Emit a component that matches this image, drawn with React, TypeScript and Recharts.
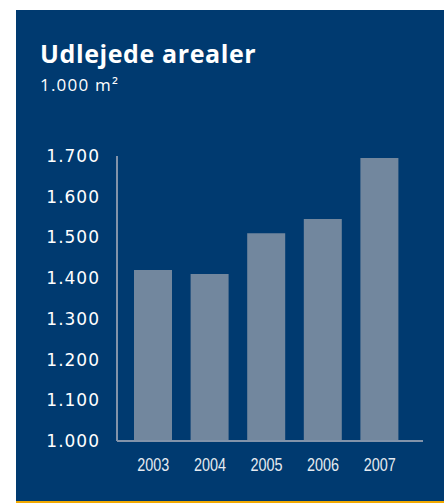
import React from "react";
import { BarChart, Bar, XAxis, YAxis } from "recharts";

const years = ["2003", "2004", "2005", "2006", "2007"];
const areal = [1420, 1410, 1510, 1545, 1695];
const yTicks = [1000, 1100, 1200, 1300, 1400, 1500, 1600, 1700];

const data = years.map((y, i) => ({ year: y, value: areal[i] }));

const fmt = (v: number) => {
  const s = String(v);
  return s.length > 3 ? s.slice(0, s.length - 3) + "." + s.slice(-3) : s;
};

const BG = "#003a70";
const BAR = "#72879e";
const AXIS = "#8293aa";

const XTick = (props: any) => {
  const { x, y, payload } = props;
  return (
    <text
      x={x}
      y={y}
      dy="0.71em"
      textAnchor="middle"
      fill="#e6ebf1"
      fontSize={18}
      fontFamily="'Liberation Sans', sans-serif"
      textLength={32}
      lengthAdjust="spacingAndGlyphs"
    >
      {payload.value}
    </text>
  );
};

export default function App() {
  return (
    <div
      style={{
        position: "absolute",
        left: 16,
        top: 10,
        width: 428,
        height: 491,
        background: BG,
        borderBottom: "2px solid #f2a900",
        overflow: "hidden",
      }}
    >
      <div
        style={{
          position: "absolute",
          left: 24,
          top: 27,
          fontFamily: "'Open Sans', sans-serif",
          fontWeight: 700,
          fontSize: 25,
          letterSpacing: 0.6,
          lineHeight: "32px",
          color: "#ffffff",
          whiteSpace: "nowrap",
        }}
      >
        Udlejede arealer
      </div>
      <div
        style={{
          position: "absolute",
          left: 24,
          top: 65,
          fontFamily: "'Open Sans', sans-serif",
          fontSize: 17,
          letterSpacing: 1.2,
          lineHeight: "20px",
          color: "#ffffff",
          whiteSpace: "nowrap",
        }}
      >
        1.000 m²
      </div>
      <div style={{ position: "absolute", left: 0, top: 0 }}>
        <BarChart
          width={424}
          height={491}
          data={data}
          margin={{ top: 146, right: 17, bottom: 30, left: 0 }}
          barSize={38}
        >
          <XAxis
            dataKey="year"
            height={30}
            padding={{ left: 8, right: 15 }}
            axisLine={{ stroke: AXIS, strokeWidth: 2 }}
            tickLine={false}
            tickMargin={11}
            tick={<XTick />}
            interval={0}
          />
          <YAxis
            width={101}
            domain={[1000, 1700]}
            ticks={yTicks}
            allowDataOverflow
            axisLine={{ stroke: AXIS, strokeWidth: 2 }}
            tickLine={false}
            tickMargin={11}
            tickFormatter={fmt}
            tick={{
              fill: "#ffffff",
              fontSize: 17,
              letterSpacing: 1,
              fontFamily: "'DejaVu Sans', sans-serif",
            }}
            interval={0}
          />
          <Bar dataKey="value" fill={BAR} isAnimationActive={false} />
        </BarChart>
      </div>
    </div>
  );
}
